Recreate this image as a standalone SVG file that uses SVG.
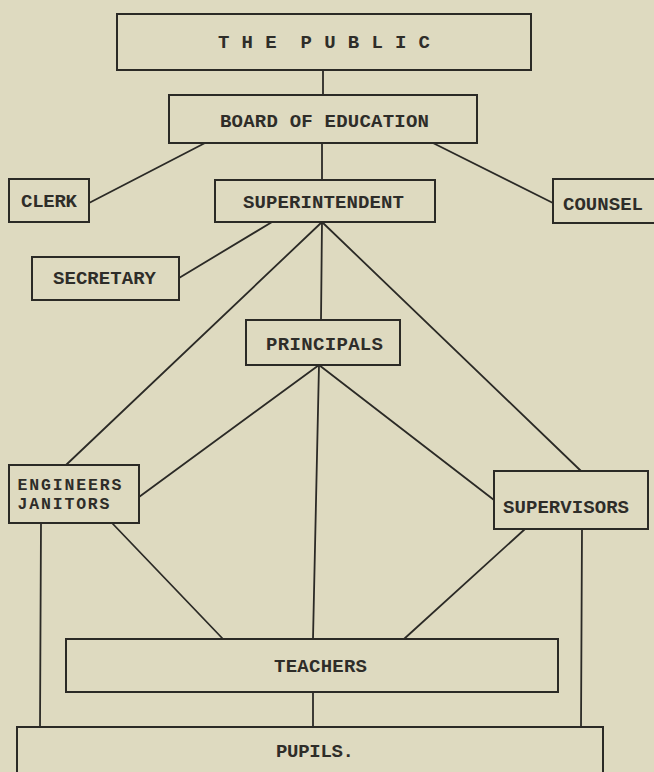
<svg xmlns="http://www.w3.org/2000/svg" width="654" height="772" viewBox="0 0 654 772">
<style>
.box{fill:none;stroke:#2b2a26;stroke-width:2}
.con line{stroke:#2b2a26;stroke-width:1.8;stroke-linecap:round}
text{font-family:"Liberation Mono","Courier New",monospace;font-size:19px;font-weight:bold;fill:#2e2d29;white-space:pre}
.sm{font-size:16.5px}
</style>
<rect width="654" height="772" fill="#dedac0"/>
<g id="connectors" class="con">
<line x1="323" y1="70" x2="323" y2="95"/>
<line x1="205" y1="143" x2="89" y2="203"/>
<line x1="433" y1="143" x2="553" y2="203"/>
<line x1="322" y1="143" x2="322" y2="180"/>
<line x1="272" y1="222" x2="179" y2="278"/>
<line x1="322" y1="222" x2="66" y2="465"/>
<line x1="322" y1="222" x2="321" y2="320"/>
<line x1="322" y1="222" x2="581" y2="471"/>
<line x1="319" y1="365" x2="139" y2="497"/>
<line x1="319" y1="365" x2="494" y2="500"/>
<line x1="319" y1="365" x2="313" y2="639"/>
<line x1="112" y1="523" x2="223" y2="639"/>
<line x1="41" y1="523" x2="40" y2="727"/>
<line x1="525" y1="529" x2="404" y2="639"/>
<line x1="582" y1="529" x2="581" y2="727"/>
<line x1="313" y1="692" x2="313" y2="727"/>
</g>
<g id="public"><rect class="box" x="117" y="14" width="414" height="56"/><text x="218" y="48" textLength="212">T H E  P U B L I C</text></g>
<g id="board"><rect class="box" x="169" y="95" width="308" height="48"/><text x="220" y="127" textLength="209">BOARD OF EDUCATION</text></g>
<g id="clerk"><rect class="box" x="9" y="179" width="80" height="43"/><text x="21" y="207" textLength="56">CLERK</text></g>
<g id="superintendent"><rect class="box" x="215" y="180" width="220" height="42"/><text x="243" y="208" textLength="161">SUPERINTENDENT</text></g>
<g id="counsel"><rect class="box" x="553" y="179" width="110" height="44"/><text x="563" y="210" textLength="80">COUNSEL</text></g>
<g id="secretary"><rect class="box" x="32" y="257" width="147" height="43"/><text x="53" y="284" textLength="103">SECRETARY</text></g>
<g id="principals"><rect class="box" x="246" y="320" width="154" height="45"/><text x="266" y="350" textLength="117">PRINCIPALS</text></g>
<g id="engineers"><rect class="box" x="9" y="465" width="130" height="58"/><text class="sm" x="17.5" y="490" textLength="104">ENGINEERS</text><text class="sm" x="17.5" y="509" textLength="92">JANITORS</text></g>
<g id="supervisors"><rect class="box" x="494" y="471" width="154" height="58"/><text x="503" y="513" textLength="126">SUPERVISORS</text></g>
<g id="teachers"><rect class="box" x="66" y="639" width="492" height="53"/><text x="274" y="672" textLength="93">TEACHERS</text></g>
<g id="pupils"><rect class="box" x="17" y="727" width="586" height="50"/><text x="276" y="757" textLength="78">PUPILS.</text></g>
</svg>
